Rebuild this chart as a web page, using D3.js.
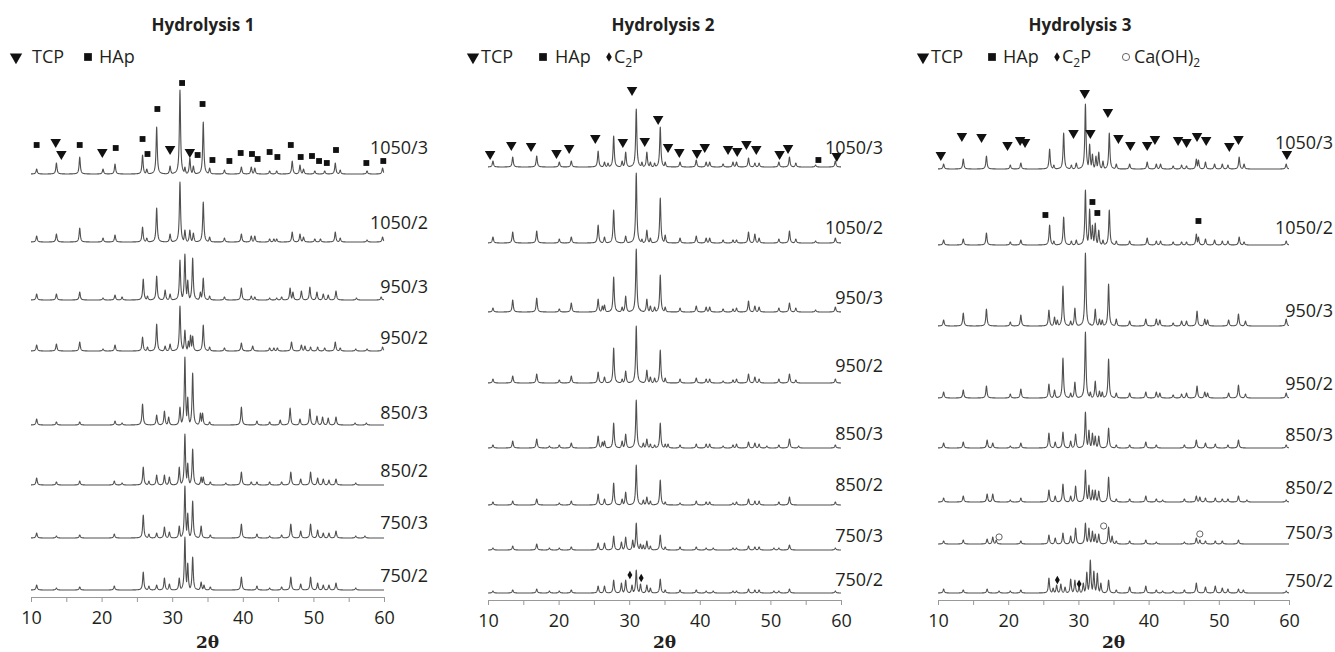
<!DOCTYPE html>
<html>
<head>
<meta charset="utf-8">
<script src="https://cdn.jsdelivr.net/npm/d3@7/dist/d3.min.js"></script>
<style>
  body { margin: 0; background: #fff; }
  svg text { font-family: "Open Sans", "Noto Sans", sans-serif; fill: #231f20; }
</style>
</head>
<body>
<svg width="1335" height="652"></svg>
<script>
// ---- data: peaks as [2theta, intensity] ----
var titles = ["Hydrolysis 1", "Hydrolysis 2", "Hydrolysis 3"];
var samples = ["1050/3", "1050/2", "950/3", "950/2", "850/3", "850/2", "750/3", "750/2"];
var xTicks = [10, 15, 20, 25, 30, 35, 40, 45, 50, 55, 60];

// vertical stacking offsets of each pattern
var offsets1 = [423, 355, 297, 246, 172, 112, 59, 7];
var offsets2 = [433, 357, 288, 217, 152, 95, 50, 7];
var offsets3 = [431, 355, 274, 202, 152, 98, 56, 7];

var h1_1050_3 = [[10.8,5],[13.6,11],[16.9,17],[20.2,5],[21.9,10],[25.8,19],[26.4,5],[27.8,47],[29.7,8],[31.1,84],[31.8,7],[32.5,16],[33.0,8],[34.4,52],[35.3,6],[37.4,4],[39.8,7],[41.2,7],[41.7,6],[43.8,3],[44.8,3],[47.0,13],[48.1,9],[48.6,5],[50.2,3],[51.6,3],[53.1,11],[53.8,4],[57.6,3],[59.8,6]];
var h1_1050_2 = [[10.8,6],[13.6,8],[16.9,14],[20.2,4],[21.9,7],[25.8,15],[26.4,4],[27.8,34],[29.7,8],[31.1,60],[31.8,12],[32.5,12],[33.0,9],[34.4,40],[35.3,5],[37.4,4],[39.8,8],[41.2,6],[41.7,6],[43.8,3],[44.4,3],[44.8,3],[47.0,10],[48.1,8],[48.6,5],[50.2,3],[51.0,3],[53.1,10],[53.8,4],[57.6,2],[59.8,5]];
var h1_950_3 = [[10.8,6],[13.6,6],[16.9,8],[20.2,2],[21.9,5],[22.9,3],[25.9,21],[26.5,4],[27.8,24],[29.0,10],[29.7,6],[31.1,40],[31.8,46],[32.2,20],[32.9,42],[34.0,8],[34.4,22],[35.3,4],[37.4,3],[39.8,12],[41.2,4],[41.7,3],[43.8,2],[44.8,2],[45.5,3],[46.7,12],[47.1,8],[48.3,9],[49.5,13],[50.5,8],[51.4,6],[52.1,5],[53.2,9],[56.1,2],[59.6,3]];
var h1_950_2 = [[10.8,6],[13.6,7],[16.9,9],[20.2,2],[21.9,6],[25.8,14],[26.5,4],[27.8,27],[29.0,5],[29.7,7],[31.1,45],[31.8,21],[32.3,10],[32.6,16],[32.9,15],[34.4,26],[35.3,4],[37.4,3],[39.8,8],[41.4,5],[43.8,3],[44.4,3],[44.9,3],[46.9,9],[48.3,6],[48.8,5],[49.6,4],[50.6,4],[51.6,3],[53.1,9],[53.8,3],[56.0,2],[57.6,2],[59.8,4]];
var h1_850_3 = [[10.8,6],[13.6,3],[16.9,3],[21.9,4],[22.9,2],[25.8,21],[27.8,10],[28.9,14],[29.5,8],[31.1,18],[31.8,68],[32.2,28],[32.9,52],[34.0,12],[34.3,12],[35.3,3],[39.8,18],[42.0,4],[43.8,3],[45.3,5],[46.7,17],[48.1,6],[49.5,16],[50.5,9],[51.3,8],[52.1,7],[53.2,8],[55.9,2],[57.5,2]];
var h1_850_2 = [[10.8,7],[13.6,3],[16.9,4],[21.8,4],[22.9,2],[25.9,18],[26.7,4],[27.8,10],[28.9,10],[29.6,8],[31.0,18],[31.8,51],[32.2,22],[32.9,36],[34.1,8],[34.4,8],[35.4,3],[37.6,2],[39.8,13],[41.2,3],[42.0,3],[43.8,3],[45.5,3],[46.8,13],[48.2,6],[49.6,13],[50.6,7],[51.4,6],[52.2,5],[53.2,6],[56.0,2]];
var h1_750_3 = [[10.8,5],[13.6,2],[16.9,3],[21.8,4],[25.9,23],[26.7,4],[27.8,5],[28.9,11],[29.6,6],[31.0,12],[31.8,52],[32.2,25],[32.9,37],[34.1,12],[35.4,3],[39.8,14],[42.0,4],[43.8,2],[45.5,3],[46.8,14],[48.2,7],[49.6,14],[50.6,8],[51.4,5],[52.2,5],[53.2,7],[56.0,2],[57.3,2]];
var h1_750_2 = [[10.8,5],[13.6,2],[16.9,3],[21.8,4],[25.9,18],[26.7,4],[27.8,5],[28.9,12],[29.6,6],[31.0,12],[31.8,53],[32.2,27],[32.9,33],[34.1,8],[34.5,5],[35.4,3],[39.8,13],[42.0,4],[43.8,2],[45.5,3],[46.8,13],[48.2,6],[49.6,13],[50.6,7],[51.4,5],[52.2,5],[53.2,7],[56.0,2]];

var h2_1050_3 = [[10.7,6],[13.5,10],[16.9,11],[20.1,5],[21.8,6],[25.6,16],[26.5,5],[27.0,4],[27.8,31],[29.0,6],[29.5,15],[31.0,58],[31.8,5],[32.5,15],[33.0,5],[33.6,4],[34.4,40],[35.1,5],[37.2,5],[39.5,7],[40.9,5],[41.4,5],[43.3,3],[44.7,5],[45.2,5],[46.9,9],[47.8,4],[48.4,4],[51.2,5],[52.7,10],[53.6,4],[56.4,2],[59.2,6]];
var h2_1050_2 = [[10.7,6],[13.5,11],[16.9,12],[20.1,4],[21.8,6],[25.6,18],[26.5,6],[27.8,33],[29.5,7],[31.0,70],[31.8,4],[32.5,13],[33.0,5],[34.4,45],[35.1,8],[37.2,5],[39.5,7],[40.9,5],[41.4,5],[43.3,3],[44.7,3],[45.2,3],[46.9,11],[47.8,9],[48.4,5],[51.2,4],[52.7,12],[53.6,4],[56.4,2],[59.2,5]];
var h2_950_3 = [[10.7,4],[13.5,12],[16.9,14],[20.1,3],[21.8,9],[25.6,13],[26.2,6],[26.5,7],[27.8,35],[29.0,5],[29.5,16],[31.0,63],[31.5,3],[32.5,13],[33.0,6],[33.6,5],[34.4,37],[35.1,5],[37.2,4],[39.5,6],[40.9,5],[41.4,5],[43.3,3],[44.7,3],[45.2,4],[46.9,11],[47.8,6],[48.4,5],[51.2,4],[52.7,9],[53.6,4],[56.4,2],[59.2,5]];
var h2_950_2 = [[10.7,4],[13.5,7],[16.9,9],[20.1,3],[21.8,7],[25.6,11],[26.5,6],[27.8,35],[29.0,4],[29.5,12],[31.0,57],[32.5,13],[33.0,6],[33.6,5],[34.4,33],[35.1,5],[37.2,4],[39.5,5],[40.9,4],[41.4,4],[43.3,2],[44.7,3],[45.2,4],[46.9,9],[47.8,6],[48.4,4],[51.2,4],[52.7,9],[53.6,3],[59.2,4]];
var h2_850_3 = [[10.7,3],[13.5,7],[16.9,9],[18.7,2],[20.1,3],[21.8,5],[25.6,12],[26.2,6],[26.5,7],[27.8,25],[29.0,7],[29.5,14],[31.0,48],[32.0,5],[32.5,9],[33.0,4],[33.6,3],[34.4,25],[35.1,4],[35.5,4],[37.2,3],[39.5,4],[40.9,4],[41.4,4],[43.3,2],[44.7,3],[45.2,4],[46.9,6],[47.8,5],[48.4,4],[49.5,2],[51.2,3],[52.7,9],[54.0,2],[59.2,3]];
var h2_850_2 = [[10.7,3],[13.5,4],[16.9,6],[20.1,2],[21.8,4],[25.6,11],[26.5,6],[27.8,22],[29.0,6],[29.5,13],[31.0,40],[32.0,5],[32.5,8],[33.0,4],[34.4,25],[35.1,3],[37.2,2],[39.5,4],[40.9,3],[41.4,3],[44.7,2],[45.2,3],[46.9,6],[47.8,4],[48.4,4],[51.2,3],[52.7,8],[59.2,3]];
var h2_750_3 = [[10.7,2],[13.5,4],[16.9,6],[18.7,2],[20.1,2],[21.8,3],[25.6,7],[26.5,7],[27.8,14],[28.9,8],[29.5,13],[30.5,10],[31.0,27],[31.6,6],[32.0,5],[32.5,9],[33.0,4],[34.4,15],[35.1,3],[37.2,3],[39.5,3],[40.9,2],[41.9,2],[44.7,2],[45.2,2],[46.9,4],[47.8,3],[48.4,3],[50.5,2],[51.2,2],[52.7,5],[59.2,2]];
var h2_750_2 = [[10.7,2],[13.5,3],[16.9,4],[18.7,2],[20.1,2],[21.8,3],[25.6,7],[26.5,7],[27.8,13],[28.9,10],[29.5,13],[30.4,8],[31.0,23],[31.6,9],[32.5,8],[33.0,5],[34.4,14],[35.1,3],[37.2,3],[39.5,3],[40.9,2],[41.9,2],[44.7,2],[45.2,2],[46.9,4],[47.8,3],[48.4,3],[50.5,2],[51.2,2],[52.7,4],[59.2,2]];

var h3_1050_3 = [[10.8,5],[13.6,10],[16.9,13],[20.3,4],[21.8,6],[25.9,20],[26.5,4],[27.9,36],[29.0,4],[29.7,6],[31.0,65],[31.6,25],[32.0,15],[32.5,13],[32.9,17],[33.5,8],[34.4,36],[35.4,5],[37.3,5],[39.8,7],[41.1,5],[41.7,5],[43.5,3],[44.7,4],[45.4,3],[46.8,10],[47.1,9],[48.1,7],[49.4,5],[50.5,5],[51.3,4],[52.9,12],[53.6,5],[59.6,5]];
var h3_1050_2 = [[10.8,5],[13.6,6],[16.9,12],[20.3,3],[21.8,5],[25.9,20],[26.5,4],[27.9,28],[29.0,4],[29.7,5],[31.0,55],[31.6,36],[32.0,20],[32.4,22],[32.9,15],[33.5,5],[34.4,35],[35.4,4],[37.3,4],[39.8,7],[41.1,4],[41.7,4],[43.5,3],[44.7,3],[45.4,3],[46.8,11],[47.1,8],[48.1,6],[49.4,5],[50.5,4],[51.3,4],[52.9,8],[53.6,3],[59.6,4]];
var h3_950_3 = [[10.8,6],[13.6,13],[16.9,17],[20.3,4],[21.8,11],[25.8,16],[26.6,9],[27.0,6],[27.8,40],[28.9,5],[29.5,18],[31.0,73],[31.7,2],[32.4,17],[33.0,7],[33.4,6],[34.3,42],[35.4,7],[37.3,5],[39.6,7],[41.1,7],[41.6,6],[43.5,3],[44.7,5],[45.4,5],[46.9,15],[48.0,7],[48.4,6],[51.4,6],[52.8,12],[53.8,5],[59.6,7]];
var h3_950_2 = [[10.8,6],[13.6,8],[16.9,12],[20.3,4],[21.8,9],[25.8,14],[26.6,8],[27.8,40],[28.9,5],[29.5,16],[31.0,66],[31.7,6],[32.4,17],[33.0,7],[33.4,6],[34.3,39],[35.4,5],[37.3,5],[39.6,6],[41.1,6],[41.6,5],[43.5,3],[44.7,4],[45.4,5],[46.9,12],[48.0,6],[48.4,5],[51.4,5],[52.8,13],[53.8,4],[59.6,5]];
var h3_850_3 = [[10.8,5],[13.6,6],[17.0,8],[17.8,5],[20.3,2],[21.8,5],[25.8,15],[26.7,6],[27.8,16],[28.9,7],[29.6,14],[31.0,36],[31.5,18],[32.0,15],[32.4,12],[32.9,12],[34.3,20],[35.4,3],[37.3,3],[39.6,6],[41.1,3],[45.1,3],[46.8,8],[48.1,5],[49.5,4],[51.3,3],[52.8,8],[59.6,3]];
var h3_850_2 = [[10.8,4],[13.6,6],[17.0,8],[17.8,8],[20.3,2],[21.8,4],[25.8,12],[26.7,6],[27.8,18],[28.9,6],[29.6,16],[31.0,32],[31.5,17],[32.0,12],[32.4,12],[32.9,11],[34.3,25],[35.4,3],[37.3,3],[39.6,6],[41.1,3],[42.0,2],[45.1,3],[46.8,6],[47.3,5],[48.1,4],[49.5,4],[50.5,3],[51.3,3],[52.8,6],[54.0,2],[59.6,2]];
var h3_750_3 = [[10.8,3],[13.6,4],[17.0,5],[17.8,7],[18.3,4],[21.8,3],[25.8,9],[26.7,6],[27.8,11],[28.9,8],[29.6,16],[31.0,21],[31.5,16],[32.0,13],[32.4,10],[32.9,10],[34.3,17],[34.8,8],[35.4,3],[37.3,3],[39.6,4],[41.1,2],[45.1,2],[46.8,6],[47.3,4],[48.1,3],[49.5,3],[50.5,3],[52.8,4]];
var h3_750_2 = [[10.8,4],[13.6,3],[17.0,4],[18.7,2],[20.3,2],[21.8,3],[25.8,15],[26.4,5],[26.9,8],[27.5,9],[28.1,6],[28.9,14],[29.5,13],[30.1,6],[30.7,10],[31.2,21],[31.7,33],[32.2,22],[32.7,20],[33.2,10],[34.3,13],[35.4,3],[37.3,6],[39.6,7],[41.1,3],[42.0,2],[43.5,2],[45.1,3],[46.8,10],[48.1,6],[49.5,7],[50.5,5],[51.3,4],[52.8,4],[53.5,3],[59.6,2]];

// phase markers: [2theta, height above that pattern's baseline]
var h1Tcp = [[13.5,32],[14.3,20],[20.1,22],[29.7,25],[32.5,22]];
var h1Hap = [[10.8,29],[16.9,29],[22.0,26],[25.8,35],[26.5,20],[27.9,65],[31.4,91],[34.3,70],[33.6,19],[35.7,14],[38.1,13],[39.7,21],[41.3,20],[42.1,15],[43.8,22],[44.9,17],[46.8,29],[48.2,17],[49.8,18],[50.8,13],[51.9,11],[53.2,24],[57.5,11],[59.9,13]];
var h2Tcp = [[10.3,13],[13.3,22],[16.1,21],[19.7,14],[21.5,19],[25.2,29],[29.1,25],[32.2,26],[30.4,77],[34.1,48],[35.5,20],[37.1,15],[39.6,14],[40.7,20],[44.0,18],[45.3,16],[46.6,23],[48.0,18],[51.3,13],[52.5,19],[59.4,11]];
var h2Hap = [[56.8,7]];
var h2C2p = [[30.1,18],[31.7,15]];
var h3Tcp = [[10.4,14],[13.4,33],[16.2,32],[19.9,24],[21.7,29],[22.4,27],[29.3,36],[30.9,76],[31.7,36],[34.2,57],[35.7,31],[37.4,24],[39.8,24],[40.9,30],[44.2,29],[45.4,27],[46.9,33],[48.2,29],[51.5,23],[52.8,30],[59.7,15]];
var h3Hap = [[25.3,30],[32.0,43],[32.7,32],[47.1,24]];
var h3CaOH = [[18.7,7],[33.6,18],[47.3,10]];
var h3C2p = [[27.0,13],[30.1,9]];

// ---- layout ----
var panels = [
  { x0: 31, x1: 384, axisY: 597, labelX: 428, titleX: 203,
    offsets: offsets1, lift: [27, 20, 14, 14, 13, 15, 16, 15],
    peaks: [h1_1050_3, h1_1050_2, h1_950_3, h1_950_2, h1_850_3, h1_850_2, h1_750_3, h1_750_2],
    marks: [{type: "tcp", s: 0, d: h1Tcp}, {type: "hap", s: 0, d: h1Hap}],
    legend: [{type: "tcp", x: 16, tx: 32, t: ["TCP"]}, {type: "hap", x: 88, tx: 99, t: ["HAp"]}] },
  { x0: 488, x1: 841, axisY: 600, labelX: 883, titleX: 663,
    offsets: offsets2, lift: [20, 16, 15, 18, 15, 21, 15, 14],
    peaks: [h2_1050_3, h2_1050_2, h2_950_3, h2_950_2, h2_850_3, h2_850_2, h2_750_3, h2_750_2],
    marks: [{type: "tcp", s: 0, d: h2Tcp}, {type: "hap", s: 0, d: h2Hap}, {type: "c2p", s: 7, d: h2C2p}],
    legend: [{type: "tcp", x: 473, tx: 481, t: ["TCP"]}, {type: "hap", x: 543, tx: 555, t: ["HAp"]},
             {type: "c2p", x: 609, tx: 614, t: ["C", "2", "P"]}] },
  { x0: 938, x1: 1289, axisY: 600, labelX: 1333, titleX: 1080,
    offsets: offsets3, lift: [27, 18, 16, 15, 14, 15, 12, 13],
    peaks: [h3_1050_3, h3_1050_2, h3_950_3, h3_950_2, h3_850_3, h3_850_2, h3_750_3, h3_750_2],
    marks: [{type: "tcp", s: 0, d: h3Tcp}, {type: "hap", s: 1, d: h3Hap}, {type: "caoh", s: 6, d: h3CaOH}, {type: "c2p", s: 7, d: h3C2p}],
    legend: [{type: "tcp", x: 923, tx: 931, t: ["TCP"]}, {type: "hap", x: 992, tx: 1003, t: ["HAp"]},
             {type: "c2p", x: 1057, tx: 1062, t: ["C", "2", "P"]}, {type: "caoh", x: 1126, tx: 1134, t: ["Ca(OH)", "2", ""]}] }
];

var svg = d3.select("svg");
var hwhm = 0.1;

// trace through the read peaks (each peak drawn as a narrow profile)
function trace(peaks) {
  var xs = d3.range(10, 60.0001, 0.025).concat(peaks.map(function(p) { return p[0]; }));
  xs.sort(d3.ascending);
  return xs.map(function(t) {
    var v = 0;
    peaks.forEach(function(p) {
      var d = (t - p[0]) / hwhm;
      v = Math.max(v, p[1] / (1 + d * d));
    });
    return [t, v];
  });
}

function symbolFor(type, size) {
  if (type == "tcp") return { d: d3.symbol(d3.symbolTriangle, size * 1.2)(), rot: 180 };
  if (type == "hap") return { d: d3.symbol(d3.symbolSquare, size)(), rot: 0 };
  if (type == "c2p") return { d: d3.symbol(d3.symbolDiamond, size * 0.6)(), rot: 0 };
  return { d: d3.symbol(d3.symbolCircle, size * 0.9)(), rot: 0 };
}

function drawSymbol(g, type, x, y, size) {
  var s = symbolFor(type, size);
  g.append("path")
    .attr("d", s.d)
    .attr("transform", "translate(" + x + "," + y + ") rotate(" + s.rot + ")")
    .attr("fill", type == "caoh" ? "none" : "#111")
    .attr("stroke", type == "caoh" ? "#555" : "none")
    .attr("stroke-width", 0.9);
}

panels.forEach(function(p, pi) {
  var g = svg.append("g");
  var x = d3.scaleLinear().domain([10, 60]).range([p.x0, p.x1]);
  var y = d3.scaleLinear().domain([0, 100]).range([p.axisY, p.axisY - 100]);

  g.append("text")
    .attr("x", p.titleX).attr("y", 24)
    .attr("text-anchor", "middle").attr("dominant-baseline", "central")
    .style("font-weight", "bold").style("font-size", "17px")
    .text(titles[pi]);

  // legend
  p.legend.forEach(function(l) {
    var sz = l.type == "tcp" ? 55 : (l.type == "hap" ? 60 : 45);
    drawSymbol(g, l.type, l.x, 57, sz);
    var t = g.append("text")
      .attr("x", l.tx).attr("y", 63)
      .style("font-size", "18px");
    t.append("tspan").text(l.t[0]);
    if (l.t.length > 1) {
      t.append("tspan").attr("dy", 4).style("font-size", "12px").text(l.t[1]);
      t.append("tspan").attr("dy", -4).text(l.t[2]);
    }
  });

  var line = d3.line()
    .x(function(d) { return x(d[0]); });

  p.peaks.forEach(function(pk, si) {
    var off = p.offsets[si];
    line.y(function(d) { return y(off + d[1]); });
    g.append("path")
      .datum(trace(pk))
      .attr("d", line)
      .attr("fill", "none")
      .attr("stroke", "#505050")
      .attr("stroke-width", 1.1)
      .attr("stroke-linejoin", "round");

    g.append("text")
      .attr("x", p.labelX).attr("y", y(off) - p.lift[si])
      .attr("text-anchor", "end").attr("dominant-baseline", "central")
      .style("font-size", "18px")
      .text(samples[si]);
  });

  p.marks.forEach(function(m) {
    var off = p.offsets[m.s];
    m.d.forEach(function(d) {
      drawSymbol(g, m.type, x(d[0]), y(off + d[1]), m.type == "tcp" ? 40 : 34);
    });
  });

  var axis = d3.axisBottom(x)
    .tickValues(xTicks)
    .tickSize(5)
    .tickSizeOuter(0)
    .tickPadding(9)
    .tickFormat(function(d) { return d % 10 == 0 ? d : ""; });

  var ax = g.append("g")
    .attr("transform", "translate(0," + p.axisY + ")")
    .call(axis);
  ax.select(".domain").attr("stroke", "#999");
  ax.selectAll(".tick line").attr("stroke", "#999");
  ax.selectAll(".tick text")
    .style("font-size", "18px")
    .style("font-family", "'Open Sans', 'Noto Sans', sans-serif")
    .attr("fill", "#231f20");

  g.append("text")
    .attr("x", (p.x0 + p.x1) / 2).attr("y", 642)
    .attr("text-anchor", "middle").attr("dominant-baseline", "central")
    .style("font-family", "'DejaVu Serif', 'Liberation Serif', serif")
    .style("font-weight", "bold").style("font-size", "17px")
    .text("2θ");
});
</script>
</body>
</html>
